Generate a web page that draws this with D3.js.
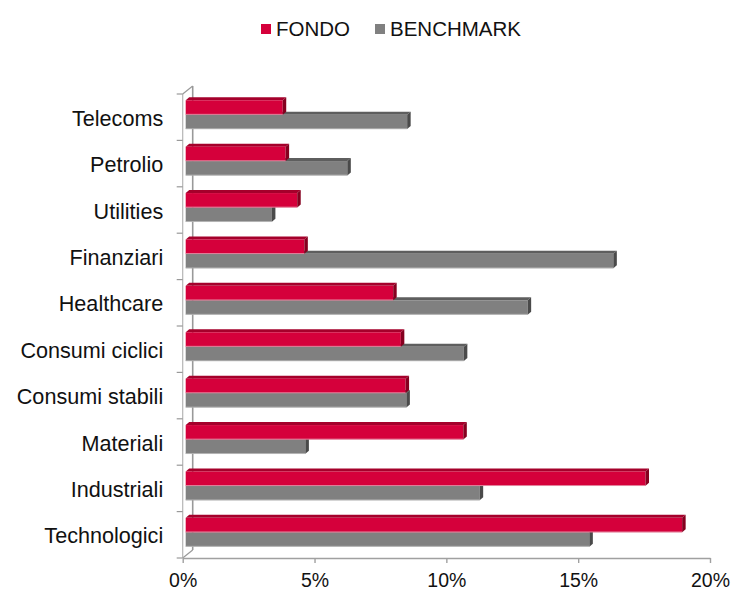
<!DOCTYPE html>
<html>
<head>
<meta charset="utf-8">
<script src="https://cdn.jsdelivr.net/npm/d3@7/dist/d3.min.js"></script>
<style>
  html, body { margin: 0; padding: 0; background: #fff; }
  svg { display: block; font-family: "Liberation Sans", Arial, sans-serif; }
</style>
</head>
<body>
<svg id="chart" width="732" height="593"></svg>
<script>
const categories = ["Telecoms", "Petrolio", "Utilities", "Finanziari", "Healthcare",
  "Consumi ciclici", "Consumi stabili", "Materiali", "Industriali", "Technologici"];
const fondo =     [3.68, 3.79, 4.23, 4.50, 7.87, 8.16, 8.34, 10.53, 17.44, 18.83];
const benchmark = [8.40, 6.13, 3.27, 16.22, 12.97, 10.55, 8.37, 4.54, 11.15, 15.31];
const seriesNames = ["FONDO", "BENCHMARK"];
const xTicks = [0, 5, 10, 15, 20];

const svg = d3.select("#chart");
const x = d3.scaleLinear().domain([0, 20]).range([182.7, 710]);
const y = d3.scaleBand().domain(categories).range([94, 558]);

const colors = {
  FONDO: { front: "#d5003b", top: "#a5002b", side: "#85001f" },
  BENCHMARK: { front: "#808080", top: "#5e5e5e", side: "#4a4a4a" }
};

const axisColor = "#a0a0a0";
const depthX = 10, depthY = 8;      // wall depth
const barShift = 3;                  // bar front offset into depth
const bdx = 3.5, bdy = 3;            // bar 3d extrusion

// back wall / floor edges
const g = svg.append("g");
const x0 = x(0), yTop = y.range()[0], yBot = y.range()[1];
g.append("line").attr("x1", x0 + depthX).attr("x2", x0 + depthX)
  .attr("y1", yTop - depthY).attr("y2", yBot - depthY)
  .attr("stroke", "#999").attr("stroke-width", 1.6);
g.append("line").attr("x1", x0).attr("y1", yTop).attr("x2", x0 + depthX).attr("y2", yTop - depthY)
  .attr("stroke", "#999").attr("stroke-width", 1.2);
g.append("line").attr("x1", x0).attr("y1", yBot).attr("x2", x0 + depthX).attr("y2", yBot - depthY)
  .attr("stroke", "#999").attr("stroke-width", 1.2);
// front left axis
g.append("line").attr("x1", x0).attr("x2", x0).attr("y1", yTop).attr("y2", yBot)
  .attr("stroke", "#b5b5b5").attr("stroke-width", 1.2);
// category boundary ticks
g.selectAll(".ctick").data(d3.range(categories.length + 1)).join("line")
  .attr("class", "ctick")
  .attr("x1", x0 - 6).attr("x2", x0)
  .attr("y1", i => yTop + i * y.step()).attr("y2", i => yTop + i * y.step())
  .attr("stroke", "#999").attr("stroke-width", 1.2);

// bars
const rows = categories.map((c, i) => ({ c, FONDO: fondo[i], BENCHMARK: benchmark[i] }));
const bars = svg.append("g");
function drawBar(sel, key, yOff, h) {
  const col = colors[key];
  sel.each(function(d) {
    const gg = d3.select(this);
    const xs = x(0) + barShift, xe = x(d[key]) + barShift;
    const yt = y(d.c) + yOff, yb = yt + h;
    gg.append("path").attr("fill", col.top)
      .attr("d", `M${xs},${yt}L${xs + bdx},${yt - bdy}L${xe + bdx},${yt - bdy}L${xe},${yt}Z`);
    gg.append("rect").attr("fill", col.front)
      .attr("x", xs).attr("y", yt).attr("width", xe - xs).attr("height", h);
    gg.append("path").attr("fill", col.side)
      .attr("d", `M${xe},${yt}L${xe + bdx},${yt - bdy}L${xe + bdx},${yb - bdy}L${xe},${yb}Z`);
    gg.append("line").attr("x1", xs).attr("x2", xe).attr("y1", yb - 0.3).attr("y2", yb - 0.3)
      .attr("stroke", key === "FONDO" ? "#e6a0b2" : "#bdbdbd").attr("stroke-width", 0.8);
  });
}
const step = y.step();
bars.selectAll(".gb").data(rows).join("g").attr("class", "gb")
  .call(drawBar, "BENCHMARK", step * 0.445, step * 0.31);
bars.selectAll(".rb").data(rows).join("g").attr("class", "rb")
  .call(drawBar, "FONDO", step * 0.135, step * 0.31);

// x axis
const xAxis = svg.append("g").attr("transform", `translate(0,${yBot})`)
  .call(d3.axisBottom(x).tickValues(xTicks).tickFormat(d => d + "%").tickSize(5).tickPadding(10).tickSizeOuter(0));
xAxis.select(".domain").attr("stroke", axisColor).attr("stroke-width", 1.6);
xAxis.selectAll(".tick line").attr("stroke", axisColor).attr("stroke-width", 1.4);
xAxis.selectAll(".tick text").attr("font-size", 19.5).attr("fill", "#111")
  .attr("font-family", "Liberation Sans, Arial, sans-serif");

// y axis labels
const yAxis = svg.append("g").attr("transform", `translate(${x0},0)`)
  .call(d3.axisLeft(y).tickSize(0).tickPadding(19.5));
yAxis.select(".domain").remove();
yAxis.selectAll(".tick text").attr("font-size", 21.6).attr("fill", "#111")
  .attr("font-family", "Liberation Sans, Arial, sans-serif").attr("dy", "0.4em");

// legend
const legend = svg.append("g");
const legendItems = [
  { name: seriesNames[0], color: colors.FONDO.front, x: 261 },
  { name: seriesNames[1], color: colors.BENCHMARK.front, x: 375 }
];
legendItems.forEach(it => {
  legend.append("rect").attr("x", it.x).attr("y", 24).attr("width", 10).attr("height", 10).attr("fill", it.color);
  legend.append("text").attr("x", it.x + 15).attr("y", 35.5).attr("font-size", 20.5).attr("fill", "#111")
    .text(it.name);
});
</script>
</body>
</html>
